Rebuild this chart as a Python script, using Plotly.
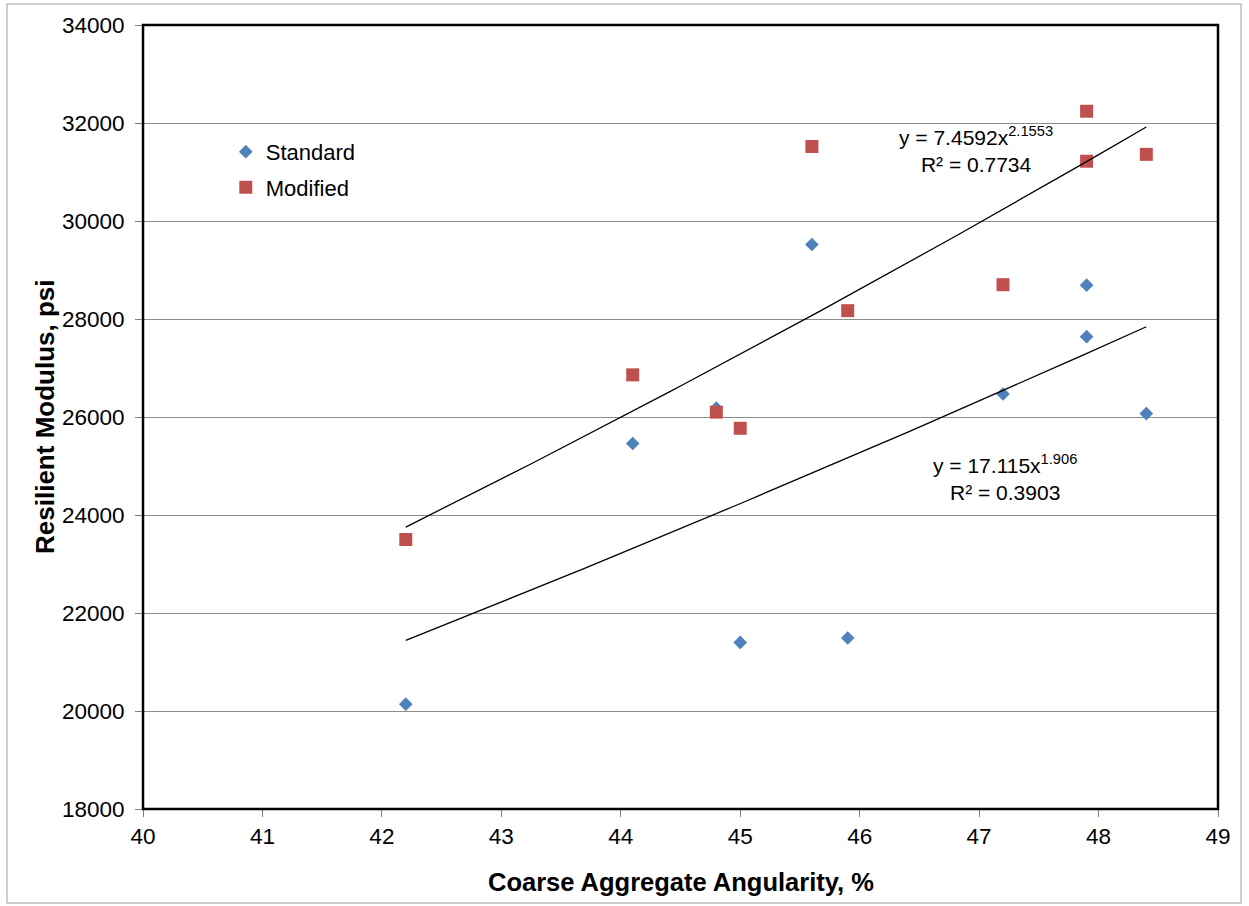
import numpy as np
import plotly.graph_objects as go

# ---- data ----
x_standard = [42.2, 44.1, 44.8, 45.0, 45.6, 45.9, 47.2, 47.9, 47.9, 48.4]
y_standard = [20140, 25460, 26180, 21400, 29520, 21490, 26470, 28690, 27640, 26070]

x_modified = [42.2, 44.1, 44.8, 45.0, 45.6, 45.9, 47.2, 47.9, 47.9, 48.4]
y_modified = [23500, 26860, 26100, 25770, 31520, 28170, 28700, 32240, 31220, 31360]

# power trendlines y = a * x^b as printed on the chart
fit_standard = {"a": 17.115, "b": 1.906, "r2": 0.3903}
fit_modified = {"a": 7.4592, "b": 2.1553, "r2": 0.7734}

x_ticks = [40, 41, 42, 43, 44, 45, 46, 47, 48, 49]
y_ticks = [18000, 20000, 22000, 24000, 26000, 28000, 30000, 32000, 34000]

BLUE = "#4F81BD"
RED = "#C0504D"
FONT = "Liberation Sans, Arial, sans-serif"

fig = go.Figure()

fig.add_trace(go.Scatter(
    x=x_standard, y=y_standard, mode="markers", name="Standard", legendgroup="s",
    marker=dict(symbol="diamond", size=10.5, color=BLUE, line=dict(width=0)),
))
fig.add_trace(go.Scatter(
    x=x_modified, y=y_modified, mode="markers", name="Modified", legendgroup="m",
    marker=dict(symbol="square", size=13, color=RED, line=dict(width=0)),
))

def trend(xs, fit):
    xt = np.linspace(min(xs), max(xs), 60)
    return xt, fit["a"] * xt ** fit["b"]

for xs, fit in [(x_modified, fit_modified), (x_standard, fit_standard)]:
    xt, yt = trend(xs, fit)
    fig.add_trace(go.Scatter(x=xt, y=yt, mode="lines", showlegend=False,
                             line=dict(color="black", width=1.3), hoverinfo="skip"))

annotations = [
    dict(x=46.97, y=31450, xref="x", yref="y",
         text=f"y = {fit_modified['a']}x<sup>{fit_modified['b']}</sup><br>R² = {fit_modified['r2']}",
         showarrow=False, font=dict(family=FONT, size=21, color="black"), align="center"),
    dict(x=47.22, y=24760, xref="x", yref="y",
         text=f"y = {fit_standard['a']}x<sup>{fit_standard['b']}</sup><br>R² = {fit_standard['r2']}",
         showarrow=False, font=dict(family=FONT, size=21, color="black"), align="center"),
    dict(x=0.5, y=-0.093, xref="paper", yref="paper", xanchor="center", yanchor="middle",
         text="<b>Coarse Aggregate Angularity, %</b>", showarrow=False,
         font=dict(family=FONT, size=25.5, color="black")),
    dict(x=-0.0912, y=0.5, xref="paper", yref="paper", xanchor="center", yanchor="middle",
         text="<b>Resilient Modulus, psi</b>", showarrow=False, textangle=-90,
         font=dict(family=FONT, size=26, color="black")),
]

shapes = [
    # plot area border
    dict(type="rect", xref="paper", yref="paper", x0=0, x1=1, y0=0, y1=1,
         line=dict(color="black", width=2.5), layer="above"),
    # outer chart border
    dict(type="rect", xref="paper", yref="paper", x0=-0.1265, x1=1.0214, y0=-0.1199, y1=1.0268,
         line=dict(color="#BDBDBD", width=1.5)),
]

fig.update_layout(
    width=1249, height=906,
    margin=dict(l=143, r=31, t=25, b=97),
    paper_bgcolor="white", plot_bgcolor="white",
    font=dict(family=FONT, size=22, color="black"),
    showlegend=True,
    legend=dict(x=0.077, y=0.865, xanchor="left", yanchor="top",
                bgcolor="rgba(0,0,0,0)", font=dict(family=FONT, size=22, color="black"),
                itemsizing="trace", tracegroupgap=4),
    annotations=annotations,
    shapes=shapes,
)

fig.update_xaxes(
    range=[40, 49], tickvals=x_ticks, ticktext=[str(v) for v in x_ticks],
    showgrid=False, zeroline=False, showline=True, linecolor="#808080", linewidth=1,
    ticks="outside", ticklen=7, tickcolor="#808080", tickwidth=1,
    tickfont=dict(family=FONT, size=22.5, color="black"),
)
fig.update_yaxes(
    range=[18000, 34000], tickvals=y_ticks, ticktext=[str(v) for v in y_ticks],
    showgrid=True, gridcolor="#8C8C8C", gridwidth=1.2, zeroline=False,
    showline=True, linecolor="#808080", linewidth=1,
    ticks="outside", ticklen=7, tickcolor="#808080", tickwidth=1, ticklabelstandoff=6,
    tickfont=dict(family=FONT, size=22.5, color="black"),
)

fig.write_html("out.html")
